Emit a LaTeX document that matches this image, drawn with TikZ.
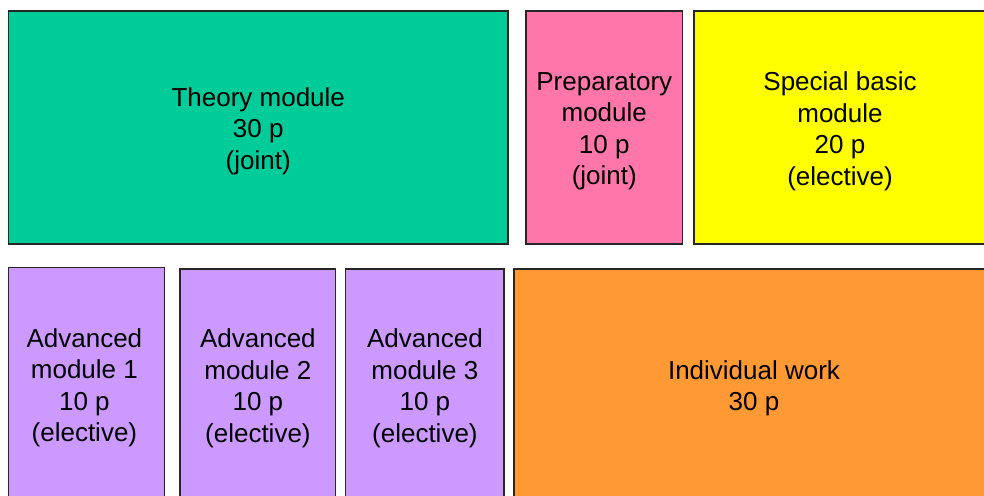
\documentclass[tikz,border=0pt]{standalone}
\usepackage{fontspec}
\setmainfont{Liberation Sans}
\usepackage{tikz}

\definecolor{theorygreen}{RGB}{0,204,153}
\definecolor{preppink}{RGB}{255,119,170}
\definecolor{basicyellow}{RGB}{255,255,0}
\definecolor{advlilac}{RGB}{204,153,255}
\definecolor{workorange}{RGB}{255,153,51}

\begin{document}
\begin{tikzpicture}[x=1pt, y=-1pt,
    module/.style={draw=black!85, line width=1.3pt, inner sep=0pt, outer sep=0pt},
    modtext/.style={align=center, inner sep=0pt, font=\fontsize{26}{31.5}\selectfont}]
    % Fix the page and cut off the boxes at its edges
    \useasboundingbox (0,0) rectangle (984,495);
    \clip (0,0) rectangle (984,495);
    % Draw the upper row
    \node[module, fill=theorygreen, minimum width=499.5pt, minimum height=233pt] (theory) at (258.25,127.5) {};
    \node[module, fill=preppink, minimum width=156.5pt, minimum height=233pt] (prep) at (604.25,127.5) {};
    \node[module, fill=basicyellow, minimum width=292pt, minimum height=233pt] (special) at (840,127.5) {};
    % Draw the lower row
    \node[module, fill=advlilac, minimum width=155.8pt, minimum height=234.7pt] (adv1) at (86.4,384.6) {};
    \node[module, fill=advlilac, minimum width=155.7pt, minimum height=233pt] (adv2) at (257.9,385.5) {};
    \node[module, fill=advlilac, minimum width=158.3pt, minimum height=233pt] (adv3) at (424.9,385.5) {};
    \node[module, fill=workorange, minimum width=480pt, minimum height=233pt] (work) at (754,385.5) {};
    % Put the texts in the boxes
    \node[modtext] (theory-txt) at ([yshift=-3.5pt]theory.center) {Theory module\\30 p\\(joint)};
    \node[modtext] (prep-txt) at ([yshift=-4pt]prep.center) {Preparatory\\module\\10 p\\(joint)};
    \node[modtext] (special-txt) at ([yshift=-4pt]special.center) {Special basic\\module\\20 p\\(elective)};
    \node[modtext] (adv1-txt) at ([xshift=-2pt, yshift=-3pt]adv1.center) {Advanced\\module 1\\10 p\\(elective)};
    \node[modtext] (adv2-txt) at ([yshift=-3pt]adv2.center) {Advanced\\module 2\\10 p\\(elective)};
    \node[modtext] (adv3-txt) at ([yshift=-3pt]adv3.center) {Advanced\\module 3\\10 p\\(elective)};
    \node[modtext] (work-txt) at ([yshift=-3pt]work.center) {Individual work\\30 p};
\end{tikzpicture}
\end{document}
